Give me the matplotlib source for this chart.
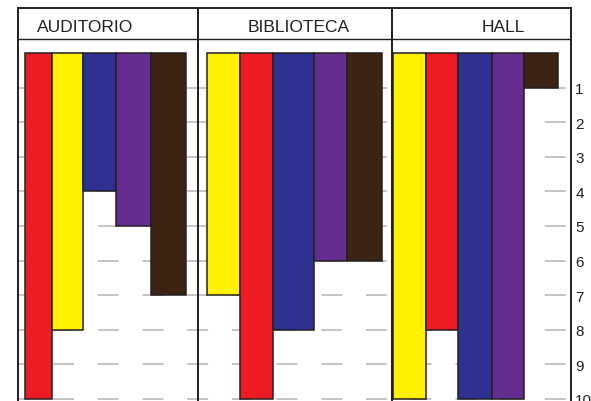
import matplotlib
matplotlib.use("Agg")
import matplotlib.pyplot as plt
import numpy as np

# data (rank 1..10, bars hang from the top)
panels = ["AUDITORIO", "BIBLIOTECA", "HALL"]
auditorio_colors = ["#ed1c24", "#fff200", "#2e3192", "#662d91", "#3c2415"]
auditorio_vals = [10, 8, 4, 5, 7]
biblioteca_colors = ["#fff200", "#ed1c24", "#2e3192", "#662d91", "#3c2415"]
biblioteca_vals = [7, 10, 8, 6, 6]
hall_colors = ["#fff200", "#ed1c24", "#2e3192", "#662d91", "#3c2415"]
hall_vals = [10, 8, 10, 10, 1]
ranks = list(range(1, 11))

plt.rcParams["font.family"] = ["Liberation Sans", "DejaVu Sans"]
plt.rcParams["lines.scale_dashes"] = False

W, H = 591, 402
fig = plt.figure(figsize=(W / 100, H / 100), dpi=100)

edges = [18, 198, 392, 571]          # panel borders in px
top_px, zero_px, unit_px = 8.5, 53.9, 34.6
y_top = -(zero_px - top_px) / unit_px
y_bot = (H - zero_px) / unit_px
# bar layout per panel (left margin + uneven bar widths, in px)
margins = [7, 9, 1]
bar_widths = [[27, 31, 33, 35, 35],
              [33, 33, 41, 33, 35],
              [33, 32, 34, 32, 34]]
title_x = [0.37, 0.52, 0.62]        # axes fraction of header text
dash_offsets = [7.0, 7.8, 18.8]     # keep dash phase continuous
dark = "#231f20"

data = [(auditorio_vals, auditorio_colors),
        (biblioteca_vals, biblioteca_colors),
        (hall_vals, hall_colors)]

axes = []
for i, (vals, cols) in enumerate(data):
    pw = edges[i + 1] - edges[i]
    ax = fig.add_axes([edges[i] / W, 0, pw / W, 1 - top_px / H])
    ax.set_xlim(0, pw)
    ax.set_ylim(y_bot, y_top)
    for r in ranks:
        ax.axhline(r, color="#c4c4c4", lw=1.4, zorder=1,
                   linestyle=(dash_offsets[i], (15.1, 17.1)))
    w = np.array(bar_widths[i], dtype=float)
    lefts = margins[i] + np.concatenate([[0], np.cumsum(w)[:-1]])
    ax.bar(lefts, vals, width=w, align="edge", color=cols,
           edgecolor=dark, linewidth=1.1, zorder=2)
    ax.axhline(-(zero_px - 40) / unit_px, color=dark, lw=1.0, zorder=3)
    ax.text(title_x[i], -(zero_px - 27) / unit_px, panels[i],
            transform=ax.get_yaxis_transform(), ha="center", va="center",
            fontsize=12.5, color=dark)
    ax.set_xticks([])
    for s in ["left", "right", "top"]:
        ax.spines[s].set_color(dark)
        ax.spines[s].set_linewidth(1.4)
    ax.spines["bottom"].set_visible(False)
    ax.set_yticks([])
    axes.append(ax)

ax = axes[-1]
ax.yaxis.tick_right()
ax.set_yticks(ranks)
ax.set_yticklabels([str(r) for r in ranks])
ax.tick_params(axis="y", length=0, pad=3, labelsize=11, labelcolor=dark)

fig.savefig("out.png", dpi=100)
